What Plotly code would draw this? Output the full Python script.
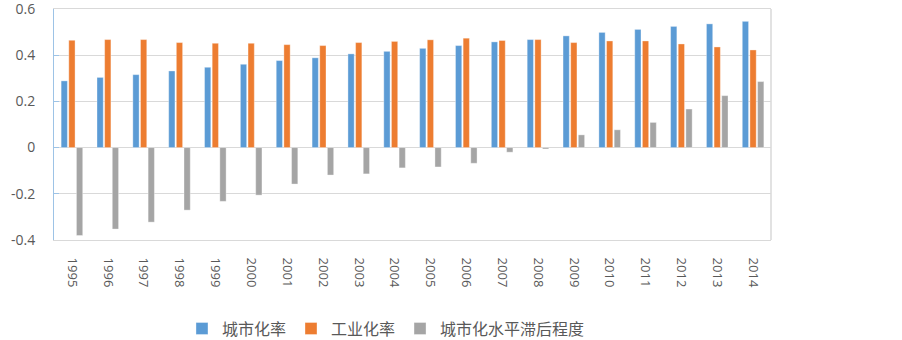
import plotly.graph_objects as go

years = [str(y) for y in range(1995, 2015)]
urban_rate = [0.289, 0.304, 0.316, 0.332, 0.348, 0.361, 0.377, 0.389, 0.406, 0.417,
              0.430, 0.442, 0.458, 0.468, 0.484, 0.499, 0.512, 0.525, 0.536, 0.547]
industry_rate = [0.465, 0.468, 0.468, 0.455, 0.452, 0.452, 0.446, 0.442, 0.455, 0.460,
                 0.467, 0.474, 0.464, 0.468, 0.455, 0.462, 0.462, 0.449, 0.436, 0.423]
lag_degree = [-0.381, -0.353, -0.323, -0.271, -0.233, -0.206, -0.158, -0.119, -0.114, -0.088,
              -0.084, -0.068, -0.020, -0.006, 0.055, 0.077, 0.109, 0.167, 0.225, 0.286]
series_names = ["城市化率", "工业化率", "城市化水平滞后程度"]
y_ticks = [-0.4, -0.2, 0, 0.2, 0.4, 0.6]
y_tick_text = ["-0.4", "-0.2", "0", "0.2", "0.4", "0.6"]

colors = ["#5B9BD5", "#ED7D31", "#A5A5A5"]
font_family = "Open Sans, Noto Sans CJK SC, sans-serif"

fig = go.Figure()
for name, vals, col in zip(series_names, [urban_rate, industry_rate, lag_degree], colors):
    fig.add_trace(go.Bar(
        x=years, y=vals, name=name,
        marker=dict(color=col, line=dict(color="rgba(255,255,255,0.5)", width=0.7)),
    ))

fig.update_layout(
    width=902, height=340,
    margin=dict(l=54, r=131, t=9, b=100, autoexpand=False),
    paper_bgcolor="white", plot_bgcolor="white",
    barmode="group", bargap=0.36, bargroupgap=0.18,
    font=dict(family=font_family, color="#595959", size=13),
    legend=dict(orientation="h", x=0.1785, xanchor="left", y=-0.31, yanchor="top",
                font=dict(size=16, family="Noto Sans CJK SC, sans-serif", color="#595959"),
                itemwidth=30, traceorder="normal"),
    showlegend=True,
)
fig.update_yaxes(
    range=[-0.4005, 0.6005], tickvals=y_ticks, ticktext=y_tick_text,
    showgrid=True, gridcolor="#D9D9D9", gridwidth=1,
    zeroline=False, automargin=False, ticklabeloverflow="allow",
    showline=True, linecolor="#9DC3E6", linewidth=1,
    ticks="inside", ticklen=5, tickcolor="#9DC3E6",
    tickfont=dict(size=14, color="#595959"), ticklabelstandoff=15,
)
fig.update_xaxes(
    type="category", tickangle=90, automargin=False,
    showline=True, linecolor="#D9D9D9", linewidth=1, mirror=True,
    showgrid=False, ticks="",
    tickfont=dict(size=13, color="#595959"), ticklabelstandoff=14,
)
fig.add_shape(type="line", xref="paper", yref="paper", x0=1, x1=1, y0=0, y1=1,
              line=dict(color="#D9D9D9", width=1.5))

fig.write_html("out.html", config={"displayModeBar": False},
               post_script="document.body.style.margin='0';")
